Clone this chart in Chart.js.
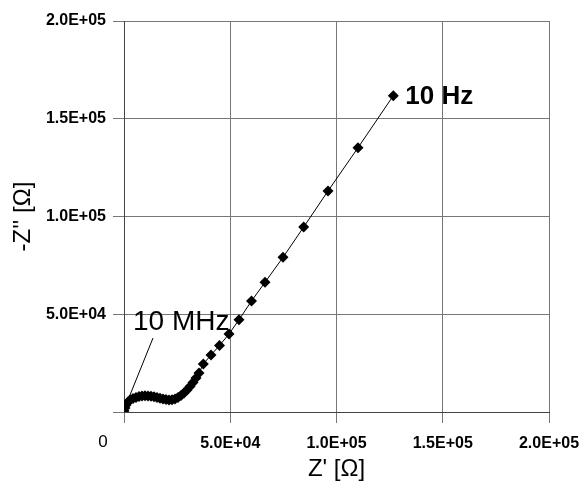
<!DOCTYPE html>
<html>
<head>
<meta charset="utf-8">
<script src="https://cdn.jsdelivr.net/npm/chart.js@4"></script>
<style>
  html, body { margin: 0; padding: 0; background: #fff; }
  canvas { display: block; }
</style>
</head>
<body>
<canvas id="nyquist" width="583" height="482"></canvas>
<script>
// Impedance spectrum, Z' (real) vs -Z'' (imaginary), both in ohm
const zReal = [
    0, 470, 940, 1880, 2820, 4240, 5650, 7060, 8470, 9880,
    11290, 12710, 14120, 15530, 16940, 18350, 19770, 21180, 22590, 24000,
    25410, 26820, 28240, 29650, 31060, 32470, 33880, 35300,
    37320, 40940, 44940, 49410, 54120, 60000, 66350, 74830,
    84570, 96000, 110120, 126730
];
const zImag = [
    500, 2050, 3580, 5120, 6140, 6900, 7420, 7930, 8180, 8290,
    8180, 8030, 7770, 7420, 7010, 6650, 6340, 6140, 6240, 6650,
    7370, 8440, 9720, 11250, 13040, 15090, 17390, 19950,
    24550, 29160, 34010, 39900, 47210, 56780, 66350, 79100,
    94630, 113040, 135190, 161790
];

const xTickLabels = ['', '5.0E+04', '1.0E+05', '1.5E+05', '2.0E+05'];
const yTickLabels = ['', '5.0E+04', '1.0E+05', '1.5E+05', '2.0E+05'];

// annotation for the high frequency end (data units)
const mhzText = '10 MHz';
const mhzTextAt = [4240, 46000];
const mhzLeader = [[13650, 37850], [1880, 6140]];
const hzText = '10 Hz';

const points = zReal.map((x, i) => ({ x: x, y: zImag[i] }));

const gridColor = '#777';
const fontFamily = '"Liberation Sans", Arial, sans-serif';

const annotations = {
    id: 'annotations',
    afterDatasetsDraw(chart) {
        const ctx = chart.ctx;
        const xs = chart.scales.x;
        const ys = chart.scales.y;
        ctx.save();

        // leader line to the 10 MHz point
        ctx.strokeStyle = '#000';
        ctx.lineWidth = 1;
        ctx.beginPath();
        ctx.moveTo(xs.getPixelForValue(mhzLeader[0][0]), ys.getPixelForValue(mhzLeader[0][1]));
        ctx.lineTo(xs.getPixelForValue(mhzLeader[1][0]), ys.getPixelForValue(mhzLeader[1][1]));
        ctx.stroke();

        ctx.fillStyle = '#000';
        ctx.textBaseline = 'middle';
        ctx.textAlign = 'left';
        ctx.font = '28px ' + fontFamily;
        ctx.fillText(mhzText, xs.getPixelForValue(mhzTextAt[0]), ys.getPixelForValue(mhzTextAt[1]));

        // label next to the last (lowest frequency) point
        const last = points[points.length - 1];
        ctx.font = 'bold 26px ' + fontFamily;
        ctx.fillText(hzText, xs.getPixelForValue(last.x) + 12, ys.getPixelForValue(last.y) + 1);

        // the origin label sits off to the left like in the original plot
        ctx.font = '17px ' + fontFamily;
        ctx.textAlign = 'center';
        ctx.fillText('0', xs.left - 21, xs.bottom - 40);
        ctx.restore();
    }
};

new Chart(document.getElementById('nyquist'), {
    type: 'scatter',
    data: {
        datasets: [{
            data: points,
            showLine: true,
            borderColor: '#000',
            borderWidth: 1,
            tension: 0,
            pointStyle: 'rectRot',
            pointRadius: 5.5,
            pointBackgroundColor: '#000',
            pointBorderColor: '#000',
            pointBorderWidth: 0
        }]
    },
    options: {
        responsive: false,
        animation: false,
        layout: { padding: { left: 0, top: 21, right: 34, bottom: 0 } },
        plugins: {
            legend: { display: false },
            tooltip: { enabled: false }
        },
        scales: {
            x: {
                type: 'linear',
                min: 0,
                max: 200000,
                afterFit(scale) {
                    scale.height = 70;
                    // the last label may hang over the right margin
                    scale.paddingLeft = 0;
                    scale.paddingRight = 0;
                },
                ticks: {
                    stepSize: 50000,
                    padding: 11,
                    color: '#000',
                    font: { family: fontFamily, size: 16, weight: 'bold' },
                    maxRotation: 0,
                    callback: (v, i) => xTickLabels[i]
                },
                grid: { color: gridColor, tickColor: gridColor, tickLength: 11, lineWidth: 1 },
                border: { color: '#444' },
                title: {
                    display: true,
                    text: "Z' [\u03a9]",
                    color: '#000',
                    font: { family: fontFamily, size: 24, lineHeight: 1 },
                    padding: { top: 0, bottom: 1 }
                }
            },
            y: {
                type: 'linear',
                min: 0,
                max: 200000,
                afterFit(scale) { scale.width = 124; },
                ticks: {
                    stepSize: 50000,
                    padding: 7,
                    color: '#000',
                    font: { family: fontFamily, size: 16, weight: 'bold' },
                    callback: (v, i) => yTickLabels[i]
                },
                grid: { color: gridColor, tickColor: gridColor, tickLength: 11, lineWidth: 1 },
                border: { color: '#444' },
                title: {
                    display: true,
                    text: "-Z'' [\u03a9]",
                    color: '#000',
                    font: { family: fontFamily, size: 24, lineHeight: 1 },
                    padding: { top: 11, bottom: 0 }
                }
            }
        }
    },
    plugins: [annotations]
});
</script>
</body>
</html>
